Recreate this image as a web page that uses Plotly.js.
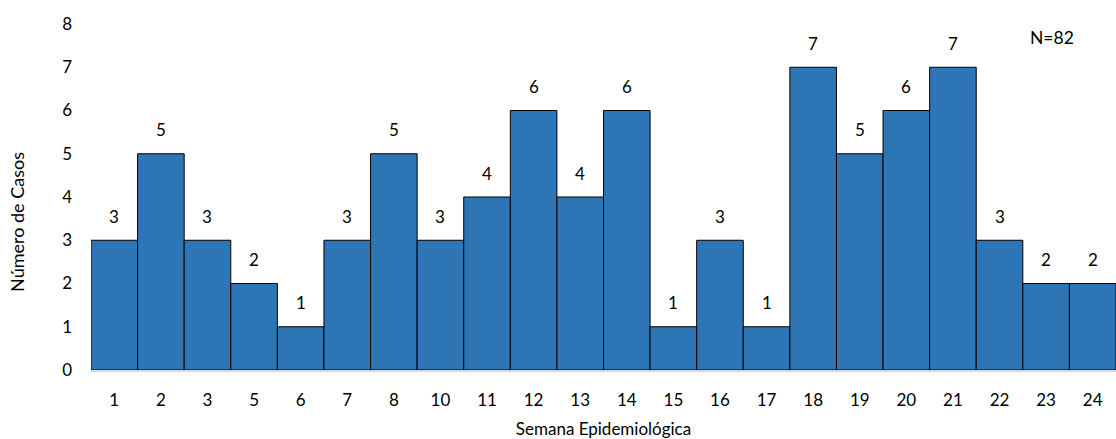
<!DOCTYPE html>
<html>
<head>
<meta charset="utf-8">
<script src="https://cdn.plot.ly/plotly-3.0.1.min.js"></script>
<style>
  html, body { margin: 0; padding: 0; background: #fff; }
  #chart { width: 1116px; height: 439px; }
</style>
</head>
<body>
<div id="chart"></div>
<script>
// Casos por semana epidemiológica
const semanas = ['1', '2', '3', '5', '6', '7', '8', '10', '11', '12', '13', '14',
                 '15', '16', '17', '18', '19', '20', '21', '22', '23', '24'];
const casos = [3, 5, 3, 2, 1, 3, 5, 3, 4, 6, 4, 6, 1, 3, 1, 7, 5, 6, 7, 3, 2, 2];
const totalTexto = 'N=82';
const tituloY = 'Número de Casos';
const tituloX = 'Semana Epidemiológica';

const fontFamily = 'Lato, "Open Sans", "Liberation Sans", sans-serif';

const trace = {
  type: 'bar',
  x: semanas,
  y: casos,
  marker: { color: '#2E75B6', line: { color: '#000000', width: 1 } },
  hoverinfo: 'x+y'
};

// Value labels above each bar (category axis positions are indices)
const etiquetas = semanas.map((s, i) => ({
  x: i, y: casos[i], xref: 'x', yref: 'y',
  text: String(casos[i]), showarrow: false,
  yanchor: 'middle', yshift: 24,
  font: { family: fontFamily, size: 17, color: '#000' }
}));

// Total count, top right
etiquetas.push({
  x: 0.9376, y: 0.962, xref: 'paper', yref: 'paper',
  text: totalTexto, showarrow: false,
  xanchor: 'center', yanchor: 'middle',
  font: { family: fontFamily, size: 17.5, color: '#000' }
});

// Vertical axis title, placed slightly below the plot's middle
etiquetas.push({
  x: -0.0722, y: 0.428, xref: 'paper', yref: 'paper',
  text: tituloY, showarrow: false, textangle: -90,
  xanchor: 'center', yanchor: 'middle',
  font: { family: fontFamily, size: 18, color: '#000' }
});

const layout = {
  width: 1116, height: 439,
  margin: { l: 91, r: 0, t: 24, b: 69 },
  paper_bgcolor: '#fff', plot_bgcolor: '#fff',
  bargap: 0,
  showlegend: false,
  font: { family: fontFamily, size: 16, color: '#000' },
  xaxis: {
    type: 'category',
    range: [-0.5, semanas.length - 0.5],
    showgrid: false, zeroline: false,
    showline: true, linecolor: '#d9d9d9', linewidth: 2,
    ticks: '', ticklabelstandoff: 14,
    tickfont: { family: fontFamily, size: 17, color: '#000' },
    title: { text: tituloX, standoff: 14,
             font: { family: fontFamily, size: 17, color: '#000' } }
  },
  yaxis: {
    range: [0, 8], dtick: 1,
    showgrid: false, zeroline: false, showline: false,
    ticks: '', ticklabelstandoff: 18,
    tickfont: { family: fontFamily, size: 17, color: '#000' }
  },
  annotations: etiquetas
};

Plotly.newPlot('chart', [trace], layout, { displayModeBar: false, staticPlot: true });
</script>
</body>
</html>
